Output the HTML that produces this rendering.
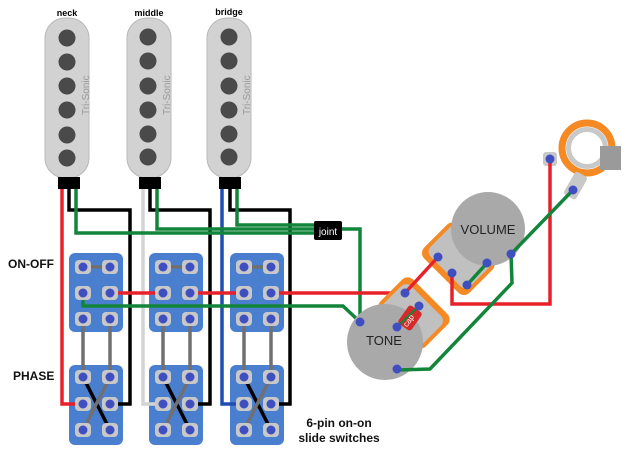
<!DOCTYPE html>
<html><head><meta charset="utf-8"><style>
html,body{margin:0;padding:0;background:#fff;}
svg{display:block;font-family:"Liberation Sans",sans-serif;}
</style></head><body>
<svg width="630" height="452" viewBox="0 0 630 452" xmlns="http://www.w3.org/2000/svg">
<defs>
<g id="term"><rect x="-8" y="-7" width="16" height="14" rx="4" fill="#c8c8c8"/><circle r="4.5" fill="#3f4fc0"/></g>
<g id="lug"><circle r="4.5" fill="#3f4fc0"/></g>
</defs>

<!-- pickups -->
<g>
<rect x="45" y="18" width="44" height="160" rx="20" fill="#d2d2d2" stroke="#b9b9b9"/>
<rect x="58" y="177" width="22" height="12" fill="#000"/>
<rect x="127" y="18" width="44" height="160" rx="20" fill="#d2d2d2" stroke="#b9b9b9"/>
<rect x="139" y="177" width="22" height="12" fill="#000"/>
<rect x="207" y="18" width="44" height="160" rx="20" fill="#d2d2d2" stroke="#b9b9b9"/>
<rect x="219" y="177" width="22" height="12" fill="#000"/>
<g fill="#4a4a4a">
<circle cx="67" cy="38" r="8.5"/><circle cx="67" cy="62" r="8.5"/><circle cx="67" cy="86" r="8.5"/><circle cx="67" cy="110" r="8.5"/><circle cx="67" cy="135" r="8.5"/><circle cx="67" cy="158" r="8.5"/>
<circle cx="148" cy="37" r="8.5"/><circle cx="148" cy="61" r="8.5"/><circle cx="148" cy="86" r="8.5"/><circle cx="148" cy="110" r="8.5"/><circle cx="148" cy="134" r="8.5"/><circle cx="148" cy="157" r="8.5"/>
<circle cx="229" cy="37" r="8.5"/><circle cx="229" cy="61" r="8.5"/><circle cx="229" cy="86" r="8.5"/><circle cx="229" cy="110" r="8.5"/><circle cx="229" cy="134" r="8.5"/><circle cx="229" cy="157" r="8.5"/>
</g>
<g fill="#9a9a9a" font-size="10">
<text transform="translate(89,115) rotate(-90)">Tri-Sonic</text>
<text transform="translate(170,115) rotate(-90)">Tri-Sonic</text>
<text transform="translate(250,115) rotate(-90)">Tri-Sonic</text>
</g>
<g font-size="9" font-weight="bold" text-anchor="middle">
<text x="67" y="16">neck</text><text x="149" y="16">middle</text><text x="229" y="15">bridge</text>
</g>
</g>

<!-- switch boxes -->
<g fill="#4a7fcf">
<rect x="69" y="253" width="54" height="79" rx="6"/><rect x="149" y="253" width="54" height="79" rx="6"/><rect x="230" y="253" width="54" height="79" rx="6"/>
<rect x="69" y="365" width="54" height="80" rx="6"/><rect x="149" y="365" width="54" height="80" rx="6"/><rect x="230" y="365" width="54" height="80" rx="6"/>
</g>

<!-- pickup wires -->
<g fill="none" stroke-width="3.5" stroke-linejoin="miter">
<polyline points="62,189 62,404 80,404" stroke="#e8202a"/>
<polyline points="69,189 69,210 130,210 130,404 112,404" stroke="#000"/>
<polyline points="143,189 143,404 160,404" stroke="#d4d4d4"/>
<polyline points="150,189 150,210 210,210 210,404 192,404" stroke="#000"/>
<polyline points="222,189 222,404 240,404" stroke="#1e4fb0"/>
<polyline points="230,189 230,210 290,210 290,404 272,404" stroke="#000"/>
<polyline points="76,189 76,233 315,233" stroke="#12853a"/>
<polyline points="157,189 157,229 315,229" stroke="#12853a"/>
<polyline points="237,189 237,225 315,225" stroke="#12853a"/>
<polyline points="342,229 360,229 360,322" stroke="#12853a"/>
<polyline points="83,293 83,306 343,306 360,322" stroke="#12853a"/>
<polyline points="110,293 160,293" stroke="#e8202a"/>
<polyline points="192,293 240,293" stroke="#e8202a"/>
<polyline points="272,293 405,293" stroke="#e8202a"/>
</g>
<g stroke="#707070" stroke-width="3.5">
<line x1="83" y1="267" x2="110" y2="267"/><line x1="163" y1="267" x2="190" y2="267"/><line x1="244" y1="267" x2="271" y2="267"/>
<line x1="83" y1="319" x2="83" y2="377"/><line x1="110" y1="319" x2="110" y2="377"/>
<line x1="163" y1="319" x2="163" y2="377"/><line x1="190" y1="319" x2="190" y2="377"/>
<line x1="244" y1="319" x2="244" y2="377"/><line x1="271" y1="319" x2="271" y2="377"/>
</g>
<g stroke="#000" stroke-width="3.5">
<line x1="83" y1="377" x2="110" y2="430"/><line x1="163" y1="377" x2="190" y2="430"/><line x1="244" y1="377" x2="271" y2="430"/>
</g>
<g stroke="#707070" stroke-width="3.5">
<line x1="110" y1="377" x2="83" y2="430"/><line x1="190" y1="377" x2="163" y2="430"/><line x1="271" y1="377" x2="244" y2="430"/>
</g>
<!-- terminals -->
<g>
<use href="#term" x="83" y="267"/><use href="#term" x="110" y="267"/><use href="#term" x="83" y="293"/><use href="#term" x="110" y="293"/><use href="#term" x="83" y="319"/><use href="#term" x="110" y="319"/>
<use href="#term" x="163" y="267"/><use href="#term" x="190" y="267"/><use href="#term" x="163" y="293"/><use href="#term" x="190" y="293"/><use href="#term" x="163" y="319"/><use href="#term" x="190" y="319"/>
<use href="#term" x="244" y="267"/><use href="#term" x="271" y="267"/><use href="#term" x="244" y="293"/><use href="#term" x="271" y="293"/><use href="#term" x="244" y="319"/><use href="#term" x="271" y="319"/>
<use href="#term" x="83" y="377"/><use href="#term" x="110" y="377"/><use href="#term" x="83" y="404"/><use href="#term" x="110" y="404"/><use href="#term" x="83" y="430"/><use href="#term" x="110" y="430"/>
<use href="#term" x="163" y="377"/><use href="#term" x="190" y="377"/><use href="#term" x="163" y="404"/><use href="#term" x="190" y="404"/><use href="#term" x="163" y="430"/><use href="#term" x="190" y="430"/>
<use href="#term" x="244" y="377"/><use href="#term" x="271" y="377"/><use href="#term" x="244" y="404"/><use href="#term" x="271" y="404"/><use href="#term" x="244" y="430"/><use href="#term" x="271" y="430"/>
</g>

<!-- joint -->
<rect x="314" y="221" width="28" height="19" rx="2" fill="#000"/>
<text x="328" y="235" fill="#fff" font-size="10" text-anchor="middle">joint</text>

<!-- tone pot backing (toward upper-right) -->
<g transform="translate(385,342) rotate(-45)">
<rect x="18" y="-32" width="46" height="64" rx="8" fill="#f58a25"/>
<rect x="18" y="-28" width="40" height="56" rx="7" fill="#c0c0c0"/>
</g>
<circle cx="385" cy="342" r="38" fill="#a9a9a9"/>
<text x="384" y="345" font-size="13" text-anchor="middle" fill="#222">TONE</text>
<g transform="translate(410,318) rotate(-55)"><rect x="-11" y="-8" width="22" height="16" rx="3" fill="#d42a2a"/>
<text x="-3" y="3" font-size="8" fill="#fff" text-anchor="middle">cap</text></g>
<line x1="397" y1="327" x2="419" y2="306" stroke="#12853a" stroke-width="2"/>

<!-- volume pot backing (toward lower-left) -->
<g transform="translate(488,229) rotate(135)">
<rect x="18" y="-32" width="48" height="64" rx="8" fill="#f58a25"/>
<rect x="18" y="-28" width="42" height="56" rx="7" fill="#c0c0c0"/>
</g>
<circle cx="488" cy="229" r="37" fill="#a9a9a9"/>
<text x="488" y="234" font-size="13" text-anchor="middle" fill="#222">VOLUME</text>

<!-- jack -->
<circle cx="587" cy="148" r="25" fill="none" stroke="#f58a25" stroke-width="7"/>
<circle cx="587" cy="148" r="18.5" fill="none" stroke="#c8c8c8" stroke-width="5"/>
<rect x="600" y="146" width="21" height="24" fill="#9a9a9a"/>
<rect x="543" y="152" width="14" height="14" rx="3" fill="#c8c8c8"/>
<rect x="566" y="172" width="14" height="26" rx="3" fill="#c8c8c8" transform="rotate(30 573 190)"/>

<!-- pot wires -->
<g fill="none" stroke-width="3.5">
<polyline points="405,293 438,257" stroke="#e8202a"/>
<polyline points="452,273 452,304 550,304 550,159" stroke="#e8202a"/>
<polyline points="573,190 511,254 512,283 430,369 398,370" stroke="#12853a"/>
<polyline points="467,285 487,263" stroke="#12853a"/>
</g>
<g>
<use href="#lug" x="360" y="322"/><use href="#lug" x="405" y="293"/><use href="#lug" x="397" y="369"/>
<use href="#lug" x="419" y="306"/><use href="#lug" x="397" y="327"/>
<use href="#lug" x="438" y="257"/><use href="#lug" x="452" y="273"/><use href="#lug" x="467" y="285"/><use href="#lug" x="487" y="263"/><use href="#lug" x="511" y="254"/>
<use href="#lug" x="550" y="159"/><use href="#lug" x="573" y="190"/>
</g>

<!-- labels -->
<g font-weight="bold" font-size="12" fill="#111">
<text x="8" y="268">ON-OFF</text>
<text x="13" y="380">PHASE</text>
<text x="339" y="427" text-anchor="middle">6-pin on-on</text>
<text x="339" y="442" text-anchor="middle">slide switches</text>
</g>
</svg>
</body></html>
